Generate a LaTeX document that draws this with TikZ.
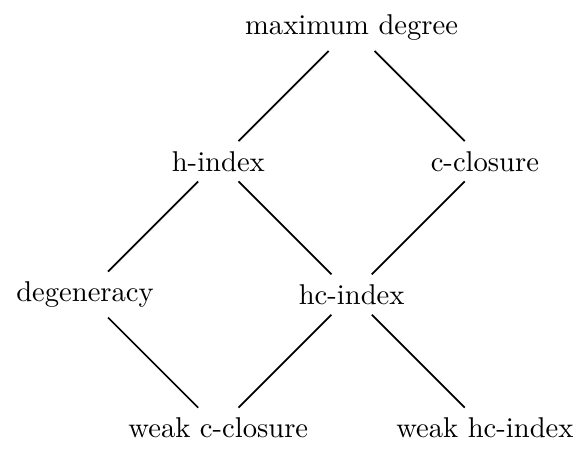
\documentclass[tikz,border=0pt]{standalone}
\usepackage{tikz}
\tikzset{
  pmparam/.style={font=\normalsize,inner sep=3.333pt},
  pmedge/.style={line width=0.6pt}
}

\begin{document}
\begin{tikzpicture}[x=46.6pt,y=46.6pt]
  \useasboundingbox (-0.638,-0.158) rectangle (3.706,3.210);
  % parameters
  \node[pmparam] (md) at (2,3) {maximum degree};
  \node[pmparam] (hi) at (1,2) {h-index};
  \node[pmparam] (cc) at (3,2) {c-closure};
  \node[pmparam] (dg) at (0,1) {degeneracy};
  \node[pmparam] (hci) at (2,1) {hc-index};
  \node[pmparam] (wcc) at (1,0) {weak c-closure};
  \node[pmparam] (whci) at (3,0) {weak hc-index};

  % relations
  \draw[pmedge] (md) -- (hi);
  \draw[pmedge] (md) -- (cc);
  \draw[pmedge] (hi) -- (dg);
  \draw[pmedge] (hi) -- (hci);
  \draw[pmedge] (cc) -- (hci);
  \draw[pmedge] (dg) -- (wcc);
  \draw[pmedge] (hci) -- (wcc);
  \draw[pmedge] (hci) -- (whci);
\end{tikzpicture}
\end{document}
